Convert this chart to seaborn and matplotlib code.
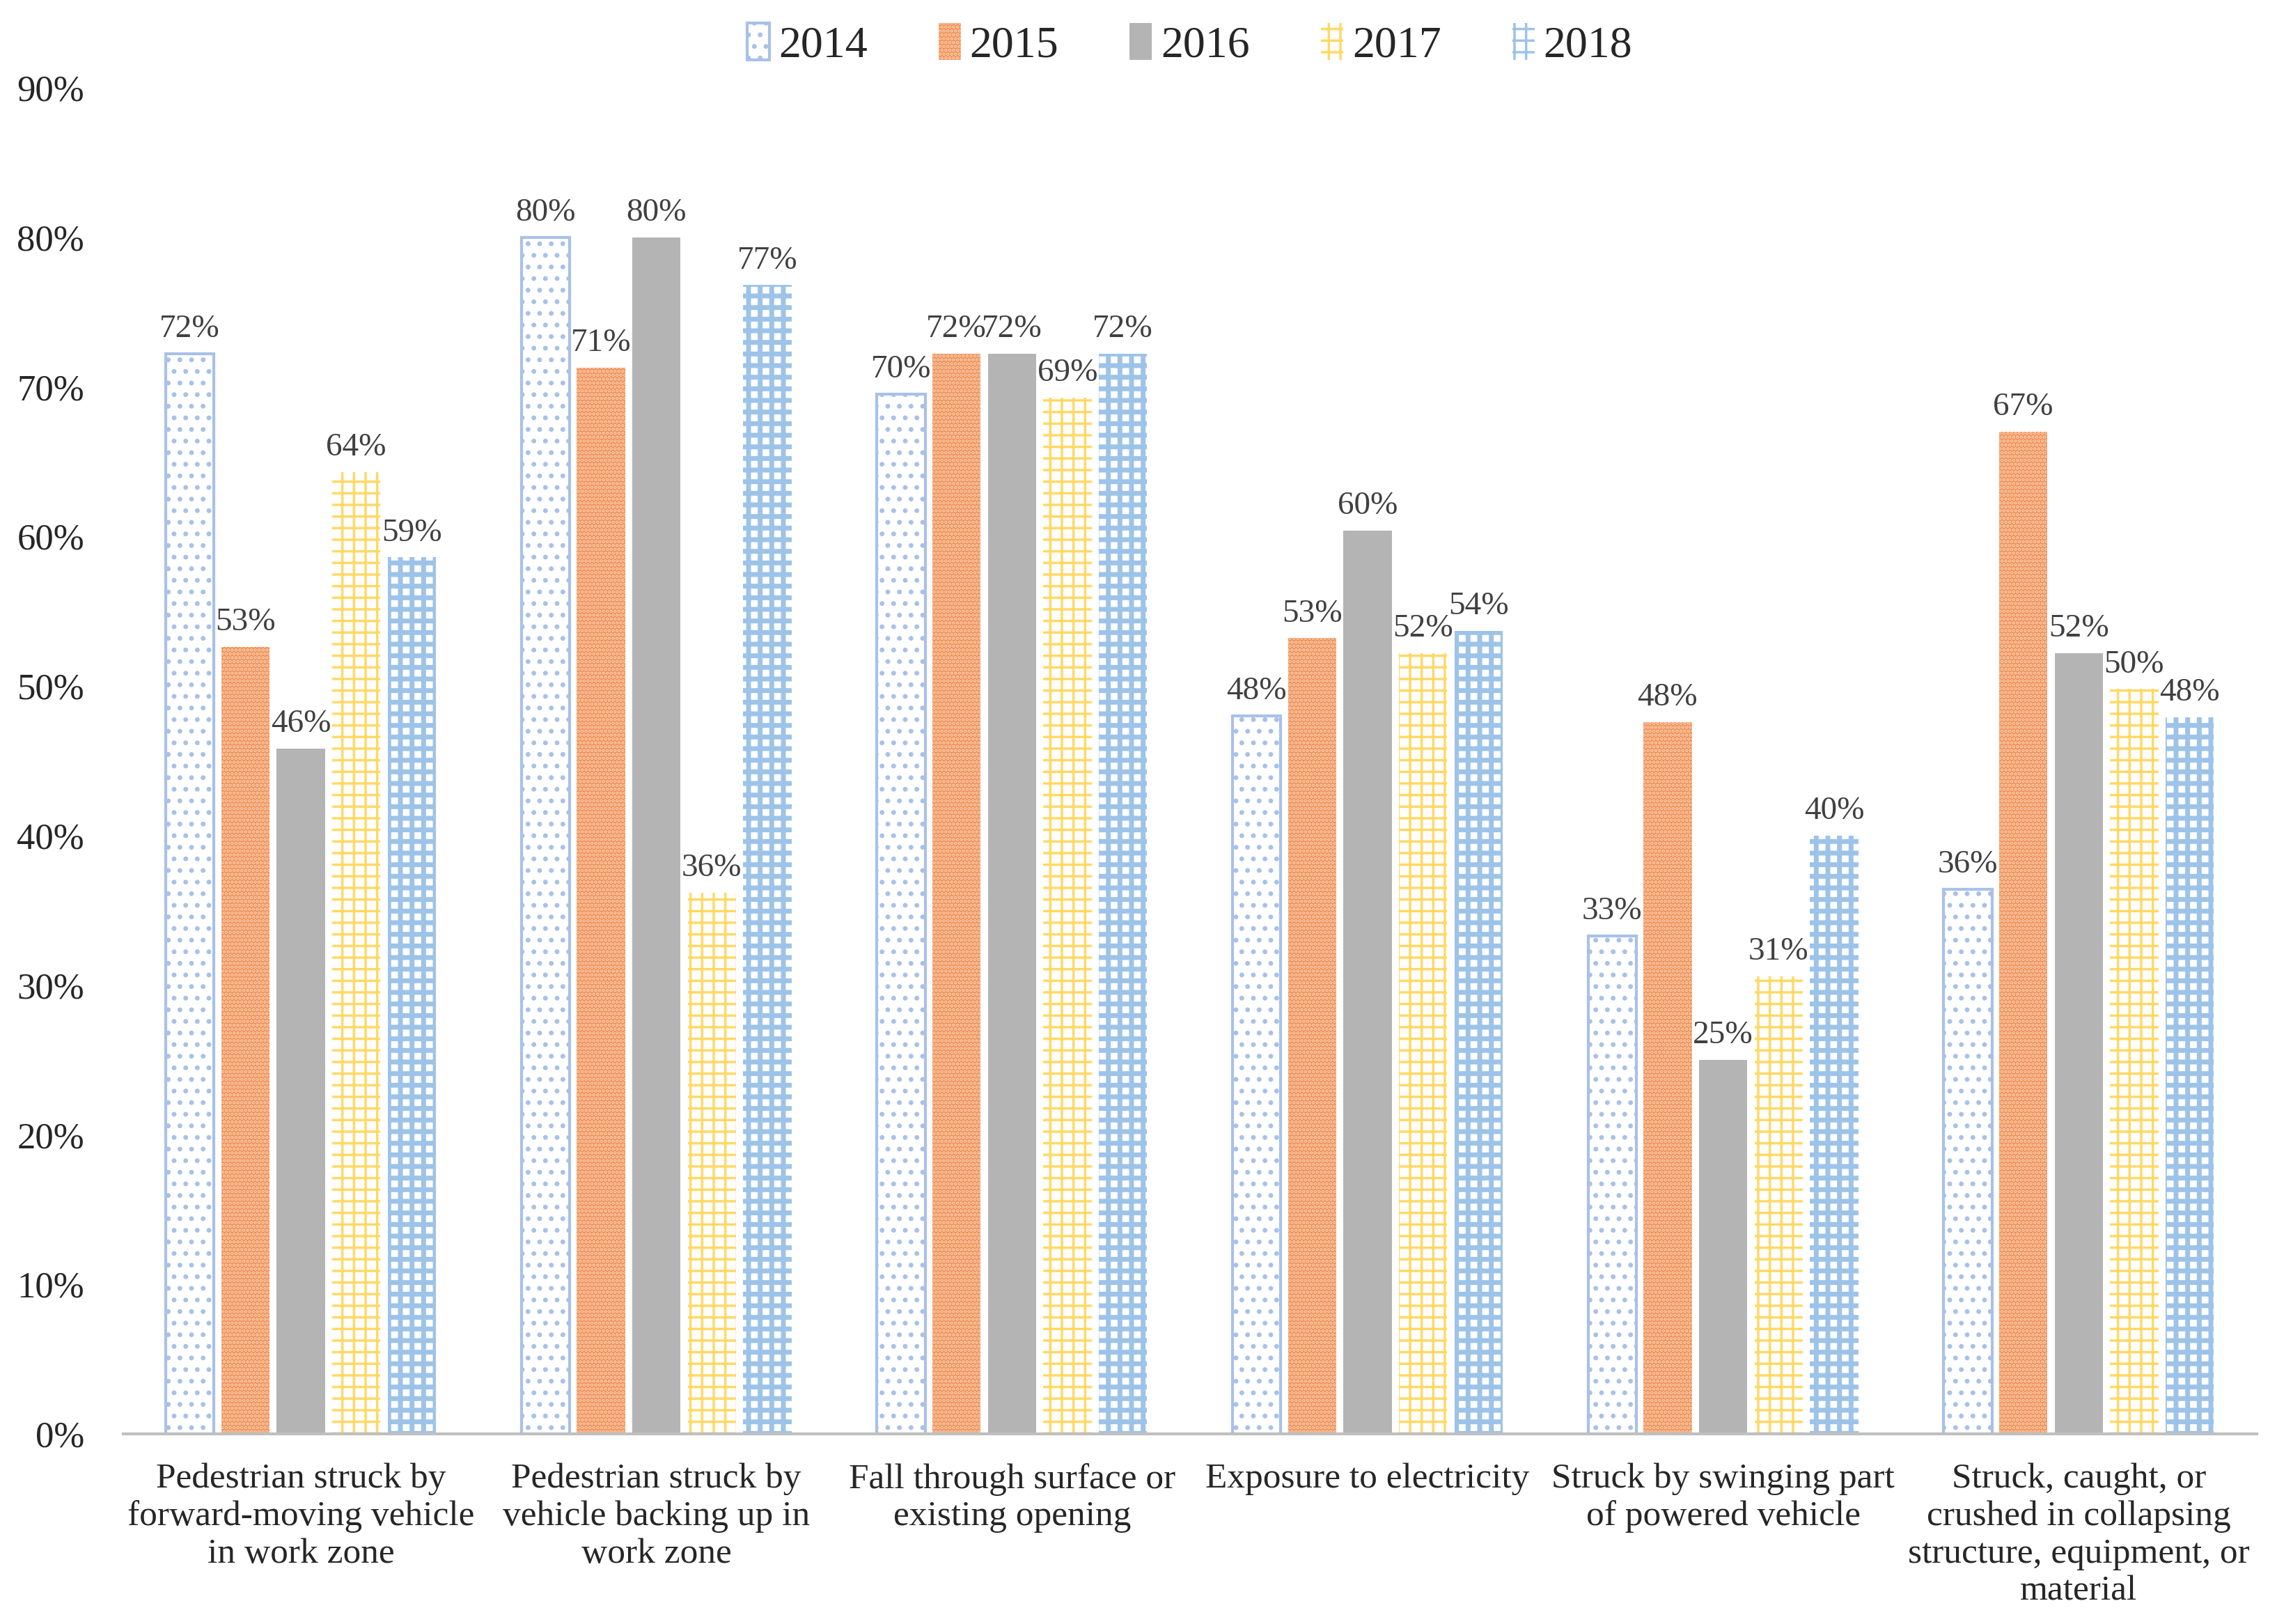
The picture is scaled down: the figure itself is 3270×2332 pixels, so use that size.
import matplotlib
matplotlib.use("Agg")
import matplotlib.pyplot as plt
from matplotlib.patches import Patch
import seaborn as sns
import pandas as pd

categories = [
    "Pedestrian struck by\nforward-moving vehicle\nin work zone",
    "Pedestrian struck by\nvehicle backing up in\nwork zone",
    "Fall through surface or\nexisting opening",
    "Exposure to electricity",
    "Struck by swinging part\nof powered vehicle",
    "Struck, caught, or\ncrushed in collapsing\nstructure, equipment, or\nmaterial",
]
years = ["2014", "2015", "2016", "2017", "2018"]
v2014 = [72.2, 80.0, 69.5, 48.0, 33.3, 36.4]
v2015 = [52.6, 71.3, 72.2, 53.2, 47.6, 67.0]
v2016 = [45.8, 80.0, 72.2, 60.4, 25.0, 52.2]
v2017 = [64.3, 36.2, 69.3, 52.2, 30.6, 49.8]
v2018 = [58.6, 76.8, 72.2, 53.7, 40.0, 47.9]
yticks = [0, 10, 20, 30, 40, 50, 60, 70, 80, 90]

series = [v2014, v2015, v2016, v2017, v2018]
rows = []
for y, vals in zip(years, series):
    for c, v in zip(categories, vals):
        rows.append({"category": c, "year": y, "value": v})
df = pd.DataFrame(rows)

sns.set_theme(style="white")
plt.rcParams["font.family"] = ["Liberation Serif", "DejaVu Serif"]
plt.rcParams["hatch.linewidth"] = 2.5

face = {"2014": "#FFFFFF", "2015": "#EF8F55", "2016": "#B4B4B4", "2017": "#FFFFFF", "2018": "#FFFFFF"}
hatchcol = {"2014": "#A9C1E8", "2015": "#F9CDAE", "2016": "#B4B4B4", "2017": "#FFD966", "2018": "#9DC3E8"}
hatches = {"2014": ".", "2015": "...", "2016": "", "2017": "+", "2018": "+"}
hlw = {"2014": 2.5, "2015": 2.5, "2016": 2.5, "2017": 2.5, "2018": 5}
lw = {"2014": 3, "2015": 0, "2016": 0, "2017": 0, "2018": 0}


def style(p, y):
    p.set_facecolor(face[y])
    p.set_edgecolor(hatchcol[y])
    p.set_hatch(hatches[y])
    p.set_linewidth(lw[y])
    if hasattr(p, "set_hatch_linewidth"):
        p.set_hatch_linewidth(hlw[y])
    else:
        p._hatch_linewidth = hlw[y]


fig = plt.figure(figsize=(32.7, 23.32), dpi=100)
ax = fig.add_axes([0.054, 0.117, 0.937, 0.829])
sns.barplot(data=df, x="category", y="value", hue="year", order=categories,
            hue_order=years, palette=face, width=0.78, gap=0.13, ax=ax,
            errorbar=None, saturation=1, legend=False)

for cont, y in zip(ax.containers, years):
    for p in cont.patches:
        style(p, y)
    ax.bar_label(cont, labels=[f"{v:.0f}%" for v in cont.datavalues],
                 padding=10, fontsize=34, color="#404040")

ax.set_ylim(0, 90)
ax.set_xlim(-0.5, 5.5)
ax.set_yticks(yticks)
ax.set_yticklabels([f"{t}%" for t in yticks])
ax.tick_params(axis="y", labelsize=38, length=0, pad=40)
ax.tick_params(axis="x", labelsize=37, length=0, pad=30)
ax.set_xlabel("")
ax.set_ylabel("")
for s in ["top", "right", "left"]:
    ax.spines[s].set_visible(False)
ax.spines["bottom"].set_color("#BFBFBF")
ax.spines["bottom"].set_linewidth(3)

handles = []
for y in years:
    h = Patch()
    style(h, y)
    handles.append(h)
ax.legend(handles, years, loc="upper center", bbox_to_anchor=(0.5, 1.078),
          ncol=5, frameon=False, fontsize=46, handlelength=0.5, handleheight=0.9,
          handletextpad=0.2, columnspacing=1.6)

fig.savefig("out.png", dpi=100)
